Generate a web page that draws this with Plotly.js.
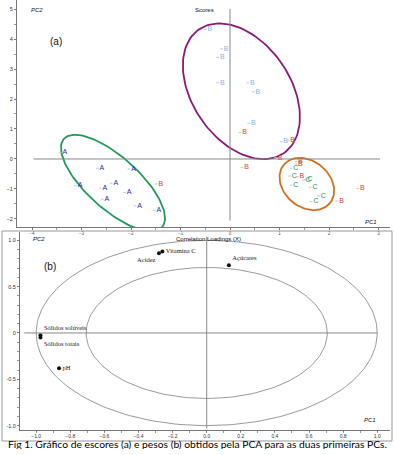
<!DOCTYPE html>
<html><head><meta charset="utf-8">
<script src="https://cdn.plot.ly/plotly-3.0.1.min.js"></script>
<style>html,body{margin:0;padding:0;background:#fff;}#chart{width:394px;height:455px;}</style>
</head><body><div id="chart"></div>
<script>
// ---- Panel (a): scores ----
const A_x = [-3.43,-2.68,-2.04,-3.12,-2.40,-2.62,-2.13,-2.58,-1.92,-1.53];
const A_y = [0.21,-0.31,-0.33,-0.88,-0.81,-0.97,-1.12,-1.34,-1.56,-1.72];
const Bred_x = [-1.49,0.20,1.17,0.92,0.24,1.33,1.33,1.36,2.16,2.58];
const Bred_y = [-0.83,0.88,0.63,0.04,-0.29,-0.08,-0.17,-0.59,-1.40,-0.98];
const Bblue_x = [-0.50,-0.17,-0.25,-0.25,0.36,0.47,0.38,1.03];
const Bblue_y = [4.32,3.67,3.39,2.54,2.54,2.24,1.19,0.58];
const C_x = [1.23,1.20,1.48,1.52,1.23,1.62,1.79,1.64];
const C_y = [-0.31,-0.57,-0.70,-0.68,-0.87,-0.94,-1.23,-1.42];
const scoreTicks = [-4,-3,-2,-1,0,1,2,3];
const scoreYTicks = [-2,-1,0,1,2,3,4,5];

// ---- Panel (b): correlation loadings ----
const varNames = ["Vitamina C","Acidez","Açúcares","Sólidos solúveis","Sólidos totais","pH"];
const load_x = [-0.26,-0.28,0.13,-0.975,-0.975,-0.866];
const load_y = [0.88,0.86,0.73,-0.025,-0.05,-0.38];
const loadPos = ["middle right","bottom left","top right","top right","bottom right","middle right"];
const loadTicks = [-1.0,-0.8,-0.6,-0.4,-0.2,0,0.2,0.4,0.6,0.8,1.0];
const loadYTicks = [-1.0,-0.5,0,0.5,1.0];
const circleRadii = [1.0, Math.SQRT1_2];

// group ellipses (centre in data units, semi-axes in px, angle in deg)
const ellipses = [
  {cx:-2.364, cy:-0.80, a:66, b:26, ang:42, color:"#1f9a5c"},
  {cx:1.552, cy:-0.833, a:30, b:23, ang:40, color:"#d2711f"},
  {cx:0.23, cy:2.257, a:75, b:49, ang:55.7, color:"#8a1a78"}
];
const sx = 49.5, sy = 30; // px per unit in panel (a)

function ellipseTrace(e){
  const xs=[], ys=[]; const th=e.ang*Math.PI/180;
  for(let i=0;i<=120;i++){
    const t=2*Math.PI*i/120;
    const dx=e.a*Math.cos(t)*Math.cos(th)-e.b*Math.sin(t)*Math.sin(th);
    const dy=e.a*Math.cos(t)*Math.sin(th)+e.b*Math.sin(t)*Math.cos(th);
    xs.push(e.cx+dx/sx); ys.push(e.cy-dy/sy);
  }
  return {x:xs,y:ys,mode:"lines",line:{color:e.color,width:1.8},xaxis:"x",yaxis:"y",hoverinfo:"skip",showlegend:false};
}
function circleTrace(r){
  const xs=[],ys=[];
  for(let i=0;i<=200;i++){const t=2*Math.PI*i/200; xs.push(r*Math.cos(t)); ys.push(r*Math.sin(t));}
  return {x:xs,y:ys,mode:"lines",line:{color:"#9a9a9a",width:1},xaxis:"x2",yaxis:"y2",hoverinfo:"skip",showlegend:false};
}
function letterTrace(xs,ys,letter,color){
  return {x:xs,y:ys,mode:"markers+text",text:xs.map(()=>letter),textposition:"middle right",
    textfont:{family:"Arial, Liberation Sans",size:7,color:color},
    marker:{size:2,color:"#c8c8c8",symbol:"line-ew-open",line:{color:"#c8c8c8",width:1}},
    xaxis:"x",yaxis:"y",hoverinfo:"skip",showlegend:false,cliponaxis:false};
}

const traces = [];
ellipses.forEach(e=>traces.push(ellipseTrace(e)));
traces.push(letterTrace(A_x,A_y,"A","#2a2aa8"));
traces.push(letterTrace(Bblue_x,Bblue_y,"B","#86b4e0"));
traces.push(letterTrace(Bred_x,Bred_y,"B","#e03a3a"));
traces.push(letterTrace(C_x,C_y,"C","#1f9050"));
circleRadii.forEach(r=>traces.push(circleTrace(r)));
traces.push({x:load_x,y:load_y,mode:"markers+text",text:varNames,textposition:loadPos,
  textfont:{family:"Liberation Serif, Times New Roman, serif",size:6.5,color:"#222"},
  marker:{size:4,color:"#111"},xaxis:"x2",yaxis:"y2",hoverinfo:"skip",showlegend:false,cliponaxis:false});

const W=394,H=455;
const axisCommon = {showgrid:false,zeroline:false,showline:true,linecolor:"#777",linewidth:1,
  ticks:"outside",ticklen:2,tickcolor:"#777",tickfont:{family:"Arial, Liberation Sans",size:5.5,color:"#333"},
  minor:{ticks:"outside",ticklen:2,tickcolor:"#999",nticks:5}};

const layout = {
  width:W,height:H,margin:{l:0,r:0,t:0,b:0},paper_bgcolor:"#fff",plot_bgcolor:"#fff",showlegend:false,
  xaxis:Object.assign({},axisCommon,{domain:[17/W,390/W],range:[-4.303,3.232],tickvals:scoreTicks,anchor:"y",tickfont:{family:"Arial, Liberation Sans",size:4.5,color:"#555"}}),
  yaxis:Object.assign({},axisCommon,{domain:[1-227/H,1],range:[-2.267,5.3],tickvals:scoreYTicks,anchor:"x"}),
  xaxis2:Object.assign({},axisCommon,{domain:[20/W,390/W],range:[-1.095,1.075],tickvals:loadTicks,tickformat:".1f",anchor:"y2",ticklen:1.5,tickfont:{family:"Arial, Liberation Sans",size:5,color:"#333"}}),
  yaxis2:Object.assign({},axisCommon,{domain:[1-429.5/H,1-232/H],range:[-1.042,1.09],tickvals:loadYTicks,ticktext:["-1.0","-0.5","0","0.5","1.0"],anchor:"x2"}),
  shapes:[
    {type:"line",xref:"x",yref:"y",x0:-3.97,x1:3.03,y0:0,y1:0,line:{color:"#888",width:1}},
    {type:"line",xref:"x",yref:"y",x0:0,x1:0,y0:-2.05,y1:5.0,line:{color:"#888",width:1}},
    {type:"line",xref:"x2",yref:"y2",x0:-1.07,x1:1.0,y0:0,y1:0,line:{color:"#888",width:1}},
    {type:"line",xref:"x2",yref:"y2",x0:0,x1:0,y0:-1.03,y1:1.04,line:{color:"#888",width:1}},
    {type:"rect",xref:"paper",yref:"paper",x0:2/W,x1:392/W,y0:1-441/H,y1:1-231/H,line:{color:"#999",width:1}}
  ],
  annotations:[
    {text:"(a)",xref:"paper",yref:"paper",x:48/W,y:1-34/H,showarrow:false,font:{family:"Arial, Liberation Sans",size:10,color:"#111"}},
    {text:"(b)",xref:"paper",yref:"paper",x:42/W,y:1-266/H,showarrow:false,font:{family:"Arial, Liberation Sans",size:10,color:"#111"}},
    {text:"Scores",xref:"paper",yref:"paper",x:205/W,y:1-5/H,showarrow:false,font:{family:"Arial, Liberation Sans",size:6,color:"#111"}},
    {text:"<i>PC2</i>",xref:"paper",yref:"paper",x:29/W,y:1-5/H,showarrow:false,font:{family:"Arial, Liberation Sans",size:6,color:"#111"}},
    {text:"<i>PC1</i>",xref:"paper",yref:"paper",x:379/W,y:1-222/H,showarrow:false,font:{family:"Arial, Liberation Sans",size:6,color:"#111"}},
    {text:"Correlation Loadings (X)",xref:"paper",yref:"paper",x:208/W,y:1-238.5/H,showarrow:false,font:{family:"Arial, Liberation Sans",size:6,color:"#111"}},
    {text:"<i>PC2</i>",xref:"paper",yref:"paper",x:31/W,y:1-238.5/H,showarrow:false,font:{family:"Arial, Liberation Sans",size:6,color:"#111"}},
    {text:"<i>PC1</i>",xref:"paper",yref:"paper",x:378/W,y:1-424.5/H,showarrow:false,font:{family:"Arial, Liberation Sans",size:6,color:"#111"}},
    {text:"Fig 1. Gráfico de escores (a) e pesos (b) obtidos pela PCA para as duas primeiras PCs.",xref:"paper",yref:"paper",x:197/W,y:1-450/H,height:11,borderpad:0,showarrow:false,font:{family:"Lato, Open Sans",size:10.3,color:"#000"}}
  ]
};
Plotly.newPlot("chart",traces,layout,{staticPlot:true,displayModeBar:false});
</script></body></html>
